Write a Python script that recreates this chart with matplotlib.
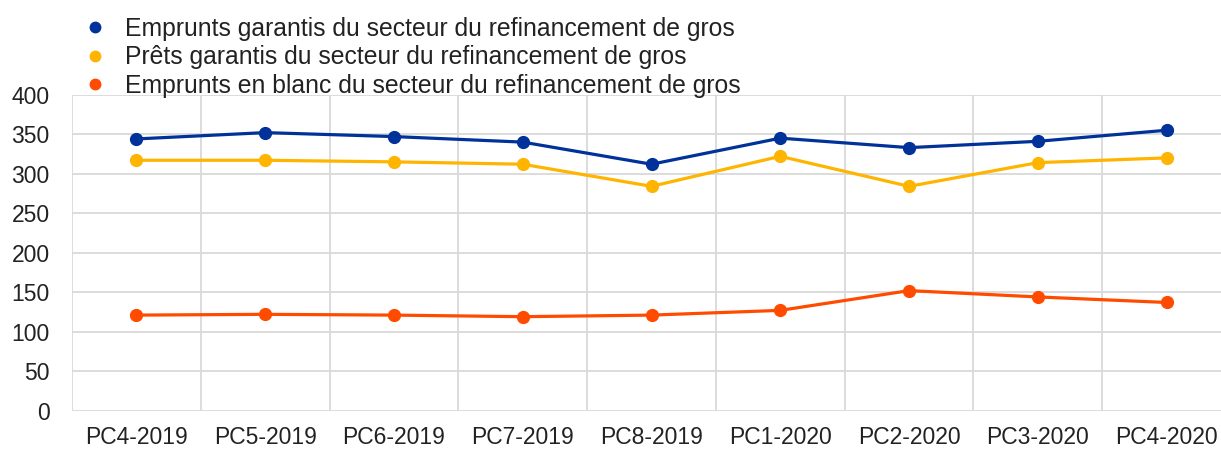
#!/usr/bin/env python3

import matplotlib

matplotlib.use("Agg")
import matplotlib.pyplot as plt
import numpy as np
from matplotlib.lines import Line2D

categories = [
    "PC4-2019", "PC5-2019", "PC6-2019", "PC7-2019", "PC8-2019",
    "PC1-2020", "PC2-2020", "PC3-2020", "PC4-2020",
]
emprunts_garantis = [344, 352, 347, 340, 312, 345, 333, 341, 355]
prets_garantis = [317, 317, 315, 312, 284, 322, 284, 314, 320]
emprunts_blanc = [121, 122, 121, 119, 121, 127, 152, 144, 137]

labels = [
    "Emprunts garantis du secteur du refinancement de gros",
    "Prêts garantis du secteur du refinancement de gros",
    "Emprunts en blanc du secteur du refinancement de gros",
]
colors = ["#003299", "#ffb400", "#ff4b00"]
yticks = list(range(0, 401, 50))


def main():
    plt.rcParams["font.family"] = ["Liberation Sans", "DejaVu Sans"]

    fig = plt.figure(figsize=(12.21, 4.5), dpi=100)
    # the plot area runs past the right edge, as in the original
    ax = fig.add_axes([72 / 1221, 39.3 / 450, 1159 / 1221, 316 / 450])

    x = np.arange(len(categories))
    for vals, c in zip([emprunts_garantis, prets_garantis, emprunts_blanc], colors):
        ax.plot(x, vals, color=c, lw=2.3, marker="o", ms=8.5, zorder=3)

    ax.set_xlim(-0.5, len(categories) - 0.5)
    ax.set_ylim(0, 400)
    ax.set_yticks(yticks)
    ax.set_xticks(x)
    ax.set_xticklabels(categories)
    ax.set_xticks(np.arange(-0.5, len(categories)), minor=True)

    for s in ax.spines.values():
        s.set_visible(False)
    ax.grid(axis="y", which="major", color="#d9d9d9", lw=1.3)
    ax.grid(axis="x", which="minor", color="#d9d9d9", lw=1.3)
    ax.tick_params(which="both", length=0)
    ax.tick_params(axis="y", pad=16, labelsize=16.5, colors="#222222")
    ax.tick_params(axis="x", pad=11, labelsize=16.5, colors="#222222")

    handles = [Line2D([], [], color=c, marker="o", ls="none", ms=7.5) for c in colors]
    fig.legend(
        handles, labels, loc="upper left", bbox_to_anchor=(85 / 1221, 1 - 17 / 450),
        frameon=False, fontsize=17.8, handlelength=0.8, handletextpad=0.8,
        labelspacing=0.18, borderaxespad=0, borderpad=0, labelcolor="#222222",
    )

    fig.savefig("out.png", dpi=100)


if __name__ == "__main__":
    main()
